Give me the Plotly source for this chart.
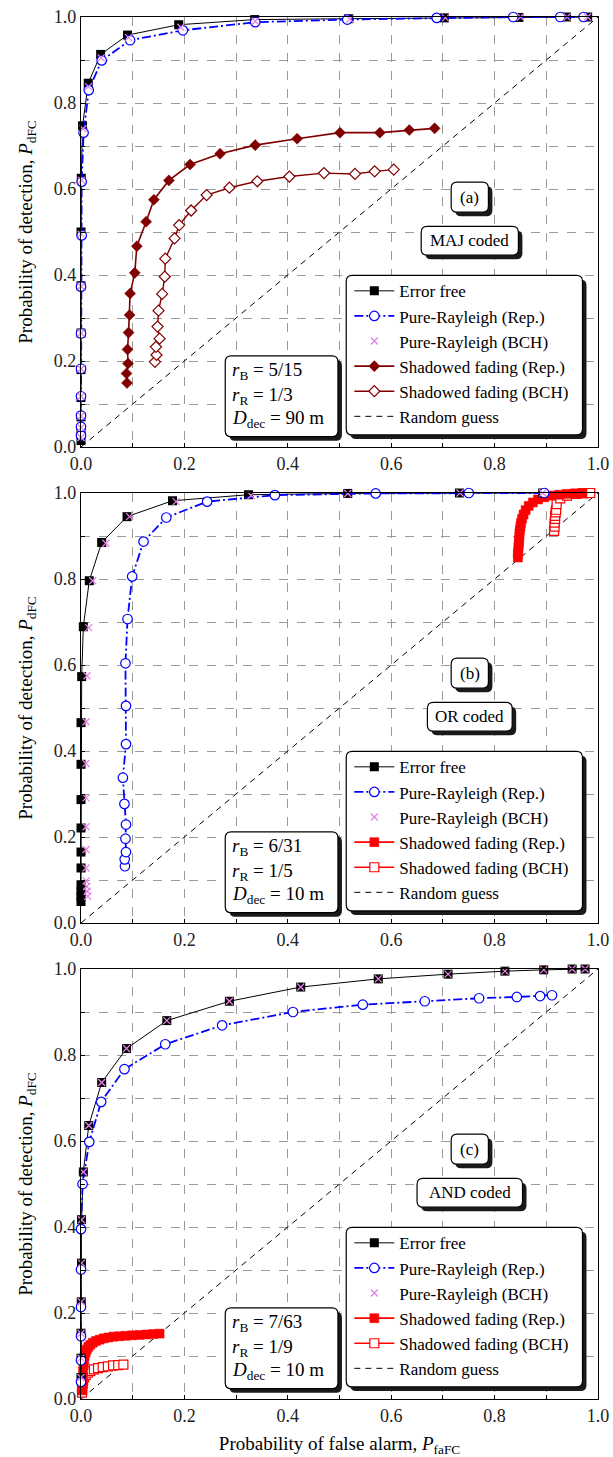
import plotly.graph_objects as go
from plotly.subplots import make_subplots

FONT = "Liberation Serif"

# ---------------- data ----------------
diag = [0.0, 1.0]

# panel (a) MAJ
a_ef_x = [0, 0, 0, 0, 0, 0, 0, 0, 0.0005, 0.003, 0.014, 0.038, 0.090, 0.189, 0.336, 0.518, 0.703, 0.847, 0.939, 0.980]
a_ef_y = [0.015, 0.04, 0.07, 0.115, 0.18, 0.265, 0.375, 0.50, 0.625, 0.747, 0.846, 0.913, 0.958, 0.982, 0.994, 0.996, 0.998, 0.999, 1.0, 1.0]
a_pr_x = [0, 0, 0, 0, 0, 0, 0, 0.0013, 0.0013, 0.005, 0.015, 0.040, 0.095, 0.197, 0.337, 0.515, 0.688, 0.836, 0.927, 0.972]
a_pr_y = [0.027, 0.047, 0.073, 0.118, 0.182, 0.264, 0.373, 0.492, 0.617, 0.731, 0.830, 0.899, 0.946, 0.969, 0.988, 0.994, 0.998, 1.0, 1.0, 1.0]
a_bch_x = [0, 0, 0, 0, 0, 0, 0, 0, 0.0008, 0.004, 0.0145, 0.039, 0.092, 0.193, 0.337, 0.52, 0.705, 0.85, 0.94, 0.98]
a_bch_y = [0.022, 0.045, 0.072, 0.118, 0.182, 0.265, 0.374, 0.495, 0.62, 0.74, 0.838, 0.905, 0.952, 0.976, 0.99, 0.995, 0.998, 1.0, 1.0, 1.0]
a_sf_x = [0.089, 0.088, 0.091, 0.090, 0.092, 0.094, 0.095, 0.104, 0.108, 0.126, 0.141, 0.170, 0.211, 0.269, 0.337, 0.418, 0.501, 0.578, 0.635, 0.684]
a_sf_y = [0.149, 0.171, 0.194, 0.227, 0.266, 0.307, 0.357, 0.405, 0.467, 0.524, 0.575, 0.620, 0.657, 0.682, 0.702, 0.717, 0.731, 0.731, 0.737, 0.741]
a_sfb_x = [0.143, 0.146, 0.145, 0.152, 0.148, 0.150, 0.157, 0.162, 0.163, 0.181, 0.190, 0.213, 0.243, 0.287, 0.341, 0.403, 0.470, 0.530, 0.568, 0.605]
a_sfb_y = [0.198, 0.214, 0.233, 0.252, 0.280, 0.317, 0.356, 0.396, 0.438, 0.485, 0.516, 0.550, 0.586, 0.603, 0.618, 0.629, 0.637, 0.635, 0.641, 0.645]

# panel (b) OR
b_ef_x = [0, 0, 0, 0, 0, 0, 0, 0, 0, 0, 0.0013, 0.0045, 0.016, 0.040, 0.089, 0.177, 0.324, 0.516, 0.732, 0.893]
b_ef_y = [0.050, 0.062, 0.074, 0.089, 0.128, 0.165, 0.221, 0.287, 0.369, 0.466, 0.573, 0.689, 0.796, 0.885, 0.945, 0.982, 0.996, 0.999, 1.0, 1.0]
b_pr_x = [0.085, 0.0845, 0.087, 0.086, 0.087, 0.084, 0.081, 0.087, 0.087, 0.086, 0.090, 0.099, 0.121, 0.165, 0.244, 0.375, 0.57, 0.75, 0.896]
b_pr_y = [0.132, 0.148, 0.165, 0.196, 0.229, 0.277, 0.338, 0.416, 0.505, 0.604, 0.707, 0.806, 0.887, 0.943, 0.980, 0.995, 0.999, 1.0, 1.0]
b_bch_x = [0.013, 0.012, 0.011, 0.010, 0.0097, 0.0097, 0.0097, 0.0097, 0.0097, 0.0097, 0.0116, 0.0148, 0.0226, 0.048, 0.094, 0.184, 0.329, 0.516, 0.733, 0.893]
b_bch_y = [0.062, 0.074, 0.085, 0.098, 0.128, 0.171, 0.224, 0.291, 0.371, 0.468, 0.575, 0.687, 0.796, 0.883, 0.945, 0.980, 0.994, 0.999, 1.0, 1.0]
b_sf_x = [0.845, 0.845, 0.846, 0.846, 0.847, 0.847, 0.848, 0.848, 0.849, 0.850, 0.851, 0.853, 0.856, 0.860, 0.866, 0.874, 0.884, 0.896, 0.91, 0.925, 0.94, 0.955, 0.97]
b_sf_y = [0.850, 0.858, 0.866, 0.874, 0.882, 0.890, 0.898, 0.906, 0.914, 0.922, 0.930, 0.940, 0.950, 0.960, 0.970, 0.978, 0.985, 0.990, 0.994, 0.996, 0.998, 0.999, 1.0]
b_sfb_x = [0.915, 0.916, 0.916, 0.917, 0.917, 0.918, 0.919, 0.920, 0.927, 0.940, 0.958, 0.972, 0.985]
b_sfb_y = [0.912, 0.922, 0.931, 0.940, 0.947, 0.955, 0.961, 0.974, 0.9875, 0.994, 0.998, 0.999, 1.0]

# panel (c) AND
c_ef_x = [0, 0, 0, 0.0005, 0.001, 0.001, 0.0045, 0.015, 0.040, 0.088, 0.166, 0.287, 0.425, 0.575, 0.71, 0.82, 0.895, 0.95, 0.975]
c_ef_y = [0.05, 0.095, 0.153, 0.226, 0.316, 0.417, 0.528, 0.636, 0.736, 0.815, 0.880, 0.925, 0.958, 0.977, 0.988, 0.995, 0.998, 1.0, 1.0]
c_pr_x = [0, 0, 0, 0, 0, 0, 0.003, 0.016, 0.039, 0.084, 0.163, 0.273, 0.41, 0.545, 0.665, 0.77, 0.843, 0.888, 0.911]
c_pr_y = [0.04, 0.09, 0.146, 0.214, 0.301, 0.395, 0.5, 0.598, 0.691, 0.767, 0.825, 0.869, 0.9, 0.917, 0.925, 0.932, 0.935, 0.937, 0.939]
c_bch_x = list(c_ef_x)
c_bch_y = list(c_ef_y)
c_sf_x = [0.003, 0.003, 0.004, 0.004, 0.005, 0.006, 0.007, 0.009, 0.011, 0.014, 0.018, 0.023, 0.029, 0.036, 0.044, 0.053, 0.063, 0.074, 0.086, 0.099, 0.113, 0.127, 0.14, 0.152]
c_sf_y = [0.02, 0.035, 0.05, 0.065, 0.078, 0.09, 0.1, 0.108, 0.115, 0.121, 0.126, 0.131, 0.135, 0.138, 0.141, 0.143, 0.145, 0.146, 0.147, 0.148, 0.149, 0.15, 0.151, 0.152]
c_sfb_x = [0.002, 0.002, 0.003, 0.004, 0.006, 0.009, 0.013, 0.018, 0.025, 0.033, 0.042, 0.052, 0.062, 0.072, 0.082]
c_sfb_y = [0.015, 0.025, 0.035, 0.043, 0.05, 0.056, 0.061, 0.065, 0.069, 0.072, 0.074, 0.076, 0.078, 0.079, 0.08]

tick_vals = [0.0, 0.1, 0.2, 0.3, 0.4, 0.5, 0.6, 0.7, 0.8, 0.9, 1.0]
tick_text = ["0.0", "", "0.2", "", "0.4", "", "0.6", "", "0.8", "", "1.0"]

names = ["Error free", "Pure-Rayleigh (Rep.)", "Pure-Rayleigh (BCH)",
         "Shadowed fading (Rep.)", "Shadowed fading (BCH)", "Random guess"]
panel_labels = ["(a)", "(b)", "(c)"]
scheme_labels = ["MAJ coded", "OR coded", "AND coded"]
param_rb = ["5/15", "6/31", "7/63"]
param_rr = ["1/3", "1/5", "1/9"]
param_d = ["90", "10", "10"]

# ---------------- figure ----------------
W, H = 613, 1457
ML, MR, MT, MB = 81, 15, 17, 58
PW = W - ML - MR
PH_TOT = H - MT - MB
PANEL_H = 430
GAP = 46

fig = make_subplots(rows=3, cols=1, vertical_spacing=GAP / PH_TOT)

BLUE = "#0000FF"
VIOLET = "#E680E6"
MAROON = "#800000"
RED = "#FF0000"

panels = [
    (a_ef_x, a_ef_y, a_pr_x, a_pr_y, a_bch_x, a_bch_y, a_sf_x, a_sf_y, a_sfb_x, a_sfb_y, MAROON, "diamond", 8.5),
    (b_ef_x, b_ef_y, b_pr_x, b_pr_y, b_bch_x, b_bch_y, b_sf_x, b_sf_y, b_sfb_x, b_sfb_y, RED, "square", 9),
    (c_ef_x, c_ef_y, c_pr_x, c_pr_y, c_bch_x, c_bch_y, c_sf_x, c_sf_y, c_sfb_x, c_sfb_y, RED, "square", 9),
]

shapes = []
annotations = []

def rbox(xr, yr, x0, x1, y0, y1, rpx, fill, line_w, line_c="black"):
    rx = rpx / PW
    ry = rpx / PANEL_H
    p = (f"M {x0+rx},{y0} L {x1-rx},{y0} Q {x1},{y0} {x1},{y0+ry} "
         f"L {x1},{y1-ry} Q {x1},{y1} {x1-rx},{y1} L {x0+rx},{y1} "
         f"Q {x0},{y1} {x0},{y1-ry} L {x0},{y0+ry} Q {x0},{y0} {x0+rx},{y0} Z")
    return dict(type="path", path=p, xref=xr, yref=yr, fillcolor=fill,
                line=dict(color=line_c, width=line_w), layer="above")

def shadow_box(xr, yr, x0, x1, y0, y1, rpx=6):
    dx = 4 / PW
    dy = 4 / PANEL_H
    shapes.append(rbox(xr, yr, x0 + dx, x1 + dx, y0 - dy, y1 - dy, rpx, "#1a1a1a", 0, "rgba(0,0,0,0)"))
    shapes.append(rbox(xr, yr, x0, x1, y0, y1, rpx, "white", 1.2))

for i, (efx, efy, prx, pry, bx, by, sx, sy, sbx, sby, scol, ssym, ssz) in enumerate(panels):
    row = i + 1
    lg = "legend" if i == 0 else f"legend{i+1}"
    common = dict(legend=lg, cliponaxis=False)
    fig.add_trace(go.Scatter(x=diag, y=diag, mode="lines", name=names[5], legendrank=6,
                             line=dict(color="black", width=1, dash="6px,5px"), **common), row=row, col=1)
    fig.add_trace(go.Scatter(x=sbx, y=sby, mode="lines+markers", name=names[4], legendrank=5,
                             line=dict(color=scol, width=1.4),
                             marker=dict(symbol=ssym, size=ssz, color="white", line=dict(color=scol, width=1.2)),
                             **common), row=row, col=1)
    fig.add_trace(go.Scatter(x=sx, y=sy, mode="lines+markers", name=names[3], legendrank=4,
                             line=dict(color=scol, width=1.6),
                             marker=dict(symbol=ssym, size=ssz, color=scol, line=dict(color=scol, width=0.5)),
                             **common), row=row, col=1)
    fig.add_trace(go.Scatter(x=efx, y=efy, mode="lines+markers", name=names[0], legendrank=1,
                             line=dict(color="black", width=1),
                             marker=dict(symbol="square", size=9, color="black"),
                             **common), row=row, col=1)
    fig.add_trace(go.Scatter(x=prx, y=pry, mode="lines+markers", name=names[1], legendrank=2,
                             line=dict(color=BLUE, width=1.8, dash="9px,3px,2px,3px"),
                             marker=dict(symbol="circle", size=9.5, color="white", line=dict(color=BLUE, width=1.2)),
                             **common), row=row, col=1)
    fig.add_trace(go.Scatter(x=bx, y=by, mode="markers", name=names[2], legendrank=3,
                             marker=dict(symbol="x-thin-open", size=7, color=VIOLET, line=dict(color=VIOLET, width=1.3)),
                             **common), row=row, col=1)

    xr = "x" if i == 0 else f"x{i+1}"
    yr = "y" if i == 0 else f"y{i+1}"
    # legend box
    shadow_box(xr, yr, 0.513, 0.970, 0.028, 0.399)
    # panel label box
    shadow_box(xr, yr, 0.716, 0.788, 0.546, 0.616)
    annotations.append(dict(xref=xr, yref=yr, x=0.752, y=0.581, text=panel_labels[i], showarrow=False,
                            font=dict(family=FONT, size=17, color="black")))
    sw = {0: (0.658, 0.846), 1: (0.670, 0.834), 2: (0.650, 0.854)}[i]
    shadow_box(xr, yr, sw[0], sw[1], 0.446, 0.513)
    annotations.append(dict(xref=xr, yref=yr, x=0.752, y=0.480, text=scheme_labels[i], showarrow=False,
                            font=dict(family=FONT, size=17, color="black")))
    # parameter box
    shadow_box(xr, yr, 0.279, 0.497, 0.024, 0.212)
    lines = [f"<i>r</i><sub>B</sub> = {param_rb[i]}",
             f"<i>r</i><sub>R</sub> = {param_rr[i]}",
             f"<i>D</i><sub>dec</sub> = {param_d[i]} m"]
    for t, yy in zip(lines, [0.176, 0.118, 0.066]):
        annotations.append(dict(xref=xr, yref=yr, x=0.289, y=yy, text=t, showarrow=False,
                                xanchor="left", yanchor="middle",
                                font=dict(family=FONT, size=19, color="black")))

    fig.update_xaxes(row=row, col=1, range=[0, 1], tickvals=tick_vals, ticktext=tick_text,
                     showgrid=True, gridcolor="#9a9a9a", griddash="dash", gridwidth=1,
                     showline=True, mirror=True, linecolor="black", linewidth=1.2,
                     ticks="inside", ticklen=4, tickcolor="black", zeroline=False,
                     tickfont=dict(family=FONT, size=18, color="#222222"))
    fig.update_yaxes(row=row, col=1, range=[0, 1], tickvals=tick_vals, ticktext=tick_text,
                     showgrid=True, gridcolor="#9a9a9a", griddash="dash", gridwidth=1,
                     showline=True, mirror=True, linecolor="black", linewidth=1.2,
                     ticks="inside", ticklen=4, tickcolor="black", zeroline=False,
                     tickfont=dict(family=FONT, size=18, color="#222222"),
                     title=dict(text="Probability of detection, <i>P</i><sub>dFC</sub>",
                                font=dict(family=FONT, size=19, color="black"), standoff=16))

fig.update_xaxes(row=3, col=1, title=dict(text="Probability of false alarm, <i>P</i><sub>faFC</sub>",
                                          font=dict(family=FONT, size=19, color="black"), standoff=14))

dom_h = PANEL_H / PH_TOT
doms = [(1 - dom_h, 1.0), (dom_h + GAP / PH_TOT, 1 - dom_h - GAP / PH_TOT), (0.0, dom_h)]
leg_common = dict(bgcolor="rgba(0,0,0,0)", borderwidth=0, xanchor="left", yanchor="top",
                  font=dict(family=FONT, size=17, color="black"), itemwidth=40, tracegroupgap=0)
legends = {}
for i, (d0, d1) in enumerate(doms):
    key = "legend" if i == 0 else f"legend{i+1}"
    legends[key] = dict(x=0.519, y=d0 + 0.404 * (d1 - d0), **leg_common)

fig.update_layout(width=W, height=H, margin=dict(l=ML, r=MR, t=MT, b=MB, autoexpand=False),
                  paper_bgcolor="white", plot_bgcolor="white", showlegend=True,
                  font=dict(family=FONT, size=16, color="black"),
                  shapes=shapes, annotations=annotations, **legends)

fig.write_html("out.html")
